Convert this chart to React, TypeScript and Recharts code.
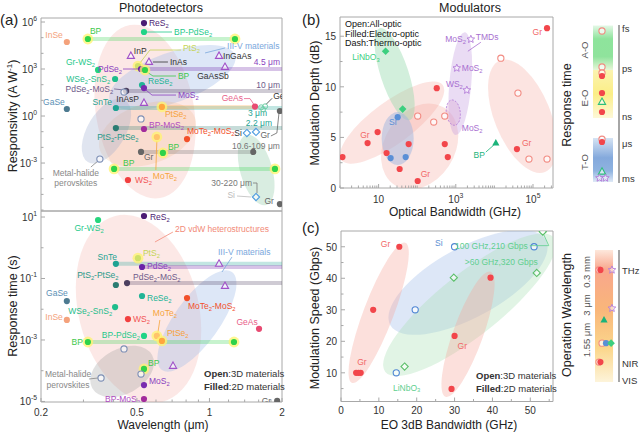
import React from "react";
import { ScatterChart, Scatter, XAxis, YAxis, ReferenceArea } from "recharts";

const FONT = '"Liberation Sans", Arial, Helvetica, sans-serif';
const AXIS = "#a8a8a8";
const INK = "#333";
const LBL = 8.5;

// ---------- (a) photodetectors: responsivity vs wavelength ----------
// [id, material, wavelength (um), responsivity (A/W)]
const respPoints: [string, string, number, number][] = [
  ["a1", "InSe", 0.256, 5.3e4],
  ["a2", "BP", 0.313, 8.2e4],
  ["a2e", "BP", 1.276, 8.2e4],
  ["a3", "ReS2", 0.535, 8.6e5],
  ["a4", "BP-PdSe2", 0.535, 2.3e5],
  ["a5", "PtS2", 0.505, 1.55e3],
  ["a6", "III-V", 0.472, 6.8e3],
  ["a7", "III-V", 0.561, 2.8e3],
  ["a8", "III-V", 1.096, 6.8e3],
  ["a9", "III-V", 1.16, 1.34e3],
  ["a10", "Gr-WS2", 0.345, 870],
  ["a11", "PdSe2", 0.52, 1000],
  ["a12", "BP", 0.54, 865],
  ["a13", "WSe2-SnS2", 0.406, 230],
  ["a14", "PdSe2-MoS2", 0.451, 40],
  ["a15", "bulk", 0.442, 34],
  ["a16", "ReSe2", 0.525, 95],
  ["a17", "MoS2", 0.535, 61],
  ["a18", "III-V", 0.535, 6.8],
  ["a19", "GaSe", 0.256, 2.8],
  ["a20", "SnTe", 0.409, 3.25],
  ["a21", "PtSe2", 0.635, 3.8],
  ["a22", "GeAs", 1.545, 4.0],
  ["a23", "Ge", 1.67, 3.6],
  ["a24", "bulk", 0.52, 0.65],
  ["a25", "PtS2-PtSe2", 0.409, 0.17],
  ["a26", "BP-MoS2", 0.535, 0.149],
  ["a27", "MoTe2-MoS2", 0.807, 0.034],
  ["a28", "MoTe2", 0.605, 0.046],
  ["a29", "Si", 1.43, 0.082],
  ["a30", "Si", 1.56, 0.096],
  ["a31", "Gr", 1.96, 2.1],
  ["a32", "Gr", 0.52, 5.1e-3],
  ["a32e", "Gr", 1.52, 5.1e-3],
  ["a33", "BP", 0.641, 4.4e-3],
  ["a34", "bulk", 0.351, 1.8e-3],
  ["a35", "BP", 0.402, 4.2e-4],
  ["a35e", "BP", 1.87, 4.2e-4],
  ["a36", "WS2", 0.459, 8.3e-5],
  ["a37", "Si", 1.56, 6.8e-6],
  ["a38", "Gr", 1.96, 2.4e-6],
];
// spectral ranges: [id, material, from, to, responsivity]
const respRanges: [string, string, number, number, number][] = [
  ["r1", "BP", 0.313, 1.276, 8.2e4],
  ["r2", "PdSe2", 0.52, 2, 1000],
  ["r3", "PdSe2-MoS2", 0.451, 2, 40],
  ["r4", "SnTe", 0.409, 2, 3.25],
  ["r5", "PtSe2", 0.635, 1.545, 3.8],
  ["r6", "PtS2-PtSe2", 0.409, 2, 0.17],
  ["r7", "Gr", 0.52, 1.52, 5.1e-3],
  ["r8", "BP", 0.402, 1.87, 4.2e-4],
];
// material groups (major-axis ends): [id, x1, y1, x2, y2]
const respHulls: [string, number, number, number, number][] = [
  ["vdw", 0.468, 6.4e5, 0.624, 5.9e-6],
  ["iii", 0.386, 10.5, 1.276, 7.8e3],
  ["tan", 0.351, 6.8e-3, 0.871, 0.75],
  ["pero", 0.313, 1.16e-3, 0.446, 10.5],
  ["far", 1.42, 0.062, 1.72, 2.1e-6],
];

// ---------- (a) photodetectors: response time vs wavelength ----------
const timePoints: [string, string, number, number][] = [
  ["b1", "Gr-WS2", 0.345, 8.0],
  ["b2", "ReS2", 0.535, 10.8],
  ["b3", "SnTe", 0.409, 0.3],
  ["b4", "PtS2", 0.505, 0.46],
  ["b5", "PdSe2", 0.525, 0.237],
  ["b6", "III-V", 1.096, 0.3],
  ["b7", "PtS2-PtSe2", 0.409, 0.0615],
  ["b8", "PdSe2-MoS2", 0.455, 0.071],
  ["b9", "III-V", 1.16, 0.057],
  ["b10", "GaSe", 0.256, 0.0185],
  ["b11", "ReSe2", 0.525, 0.027],
  ["b12", "MoTe2-MoS2", 0.807, 0.023],
  ["b13", "WSe2-SnS2", 0.406, 0.0118],
  ["b14", "WS2", 0.459, 4.8e-3],
  ["b15", "InSe", 0.256, 4.5e-3],
  ["b16", "GeAs", 1.606, 2.3e-3],
  ["b17", "MoTe2", 0.605, 1.35e-3],
  ["b18", "BP-PdSe2", 0.535, 1.35e-3],
  ["b19", "PtSe2", 0.635, 9.3e-4],
  ["b20", "BP", 0.313, 8.6e-4],
  ["b20e", "BP", 1.264, 8.6e-4],
  ["b21", "bulk", 0.442, 5.1e-4],
  ["b22", "BP", 0.535, 1.14e-4],
  ["b23", "III-V", 0.706, 1.43e-4],
  ["b24", "bulk", 0.52, 7.8e-5],
  ["b25", "bulk", 0.355, 5.8e-5],
  ["b26", "MoS2", 0.535, 3.4e-5],
  ["b27", "BP-MoS2", 0.535, 1.2e-5],
  ["b28", "Gr", 1.91, 1.04e-5],
];
const timeRanges: [string, string, number, number, number][] = [
  ["q1", "SnTe", 0.409, 2, 0.3],
  ["q2", "PdSe2", 0.525, 2, 0.237],
  ["q3", "PdSe2-MoS2", 0.455, 2, 0.071],
  ["q4", "BP", 0.313, 1.264, 8.6e-4],
];
const timeHulls: [string, number, number, number, number][] = [
  ["vdw", 0.406, 10.8, 0.635, 9.6e-6],
  ["iii", 0.635, 1.06e-4, 1.24, 0.163],
  ["pero", 0.326, 2.75e-5, 0.578, 3.25e-4],
];
const timeNotes: [string, number, number][] = [
  ["2D vdW heterostructures", 0.719, 4.07],
  ["III-V materials", 1.085, 0.728],
];

// ---------- (b) modulators: depth vs optical bandwidth ----------
const modPoints: [string, string, number, number][] = [
  ["m1", "GrEO", 1.16, 3.06],
  ["m2", "GrEO", 5.18, 4.44],
  ["m3", "GrEO", 9.42, 5.53],
  ["m4", "GrEO", 16.1, 3.46],
  ["m5", "GrEO", 35.1, 1.88],
  ["m6", "GrEO", 60.1, 4.34],
  ["m7", "GrEO", 103, 0.69],
  ["m8", "GrEO", 321, 9.87],
  ["m9", "GrEO", 518, 4.34],
  ["m10", "GrEO", 620, 3.06],
  ["m11", "GrEO", 3.84e4, 3.85],
  ["m12", "GrEO", 2.31e5, 15.8],
  ["m13", "GrAO", 103, 7.11],
  ["m14", "GrAO", 268, 6.52],
  ["m15", "GrAO", 518, 7.11],
  ["m16", "GrAO", 1.47e4, 12.83],
  ["m17", "GrAO", 4.08e4, 9.38],
  ["m18", "GrAO", 7.87e4, 2.86],
  ["m19", "GrAO", 2.31e5, 2.86],
  ["m20", "SiEO", 31.2, 7.0],
  ["m21", "SiEO", 20.5, 2.96],
  ["m22", "SiEO", 50.3, 3.06],
  ["m23", "LN", 15.2, 13.52],
  ["m24", "LN", 42, 7.8],
  ["m25", "TMD", 2455, 14.7],
  ["m26", "TMD", 1062, 11.85],
  ["m27", "TMD", 1931, 9.67],
  ["m28", "BPEO", 1.09e4, 4.44],
];
const modHulls: [string, number, number, number, number][] = [
  ["grA", 1.09, 2.76, 459, 10.17],
  ["grB", 26, 0.3, 518, 7.9],
  ["ln", 10.6, 15.8, 63.8, 6.71],
  ["si", 31.2, 7.5, 31.2, 2.27],
  ["tmd", 1713, 15.4, 1000, 5.23],
  ["hatch", 787, 8.7, 942, 6.2],
  ["ao", 1.39e4, 12.6, 2.05e5, 1.58],
];
const modNotes: [string, number, number][] = [["MoS_2", 1432, 5.92]];

// ---------- (c) modulators: speed vs EO bandwidth ----------
const speedPoints: [string, string, number, number][] = [
  ["s1", "GrEO", 15.4, 50],
  ["s2", "GrEO", 8.5, 30],
  ["s3", "GrEO", 4.0, 10],
  ["s4", "GrEO", 4.6, 10],
  ["s5", "GrEO", 5.2, 10],
  ["s6", "GrEO", 30, 21.7],
  ["s7", "GrEO", 29.2, 4.9],
  ["s8", "GrEO", 39.5, 40.2],
  ["s9", "SiC", 30, 50],
  ["s10", "SiC", 51, 50],
  ["s11", "SiC", 19.6, 30],
  ["s12", "SiC", 14.6, 10],
  ["s13", "LNC", 29.8, 40.2],
  ["s14", "LNC", 16.8, 12],
  ["s15", "LNC", 51.7, 41.7],
  ["s16", "LNC", 53.3, 54.8],
];
const speedHulls: [string, number, number, number, number][] = [
  ["si", 13, 25.2, 54.1, 52.2],
  ["ln", 11.7, 10.3, 56.2, 52.9],
  ["gr1", 2.9, 6.8, 17, 51.3],
  ["gr2", 27.6, 2.4, 39.5, 42.1],
];

// ---------- side keys ----------
const rtTicks = [0, 2.8, 5, 8.8, 12];
const rtNames = ["ms", "μs", "ns", "ps", "fs"];
const rtBands: [string, number, number][] = [
  ["AO", 8.64, 12.2],
  ["EO", 4.8, 8.64],
  ["TO", -0.32, 3.2],
];
const rtMarks: [string, number, number][] = [
  ["GrAO", 0.45, 11.76],
  ["GrAO", 0.45, 8.88],
  ["GrAO", 0.45, 8.4],
  ["GrEO", 0.45, 8.16],
  ["GrEO", 0.45, 6.8],
  ["BPo", 0.45, 6.08],
  ["GrEO", 0.45, 5.28],
  ["GrAO", 0.45, 3.1],
  ["GrEO", 0.45, 2.88],
  ["BPo", 0.45, 0.5],
  ["TMD", 0.32, 0.0],
  ["TMD", 0.62, 0.0],
];
const wlTicks = [0, 1, 6.3];
const wlNames = ["VIS", "NIR", "THz"];
const wlMarks: [string, number, number][] = [
  ["GrAO", 0.22, 6.29],
  ["GrEO", 0.3, 6.29],
  ["TMD", 0.94, 6.29],
  ["TMD", 0.94, 4.1],
  ["BPEO", 0.5, 3.43],
  ["GrAO", 0.39, 2.11],
  ["SiEO", 0.61, 2.11],
  ["LN", 0.89, 2.11],
  ["GrAO", 0.22, 1.03],
  ["GrEO", 0.3, 1.03],
];

// ---------- axes ----------
const wlAxis = [0.2, 0.3, 0.4, 0.5, 0.6, 0.7, 0.8, 0.9, 1, 1.2, 1.4, 1.6, 1.8, 2];
const wlMajor = [0.2, 0.5, 1, 2];
const respTicks = [1e-6, 1e-5, 1e-4, 1e-3, 1e-2, 0.1, 1, 10, 100, 1e3, 1e4, 1e5, 1e6];
const respMajor = [1e6, 1e3, 1, 1e-3];
const timeTicks = [1e-5, 1e-4, 1e-3, 1e-2, 0.1, 1, 10];
const timeMajor = [10, 0.1, 1e-3, 1e-5];
const bwMajor = [10, 1e3, 1e5];
const bwTicks: number[] = [];
for (let k = 0; k <= 5; k++) for (let m = 1; m <= 9; m++) if (m * 10 ** k <= 3.3e5) bwTicks.push(m * 10 ** k);
const depthTicks = [0, 2.5, 5, 7.5, 10, 12.5, 15];
const eoTicks = [0, 5, 10, 15, 20, 25, 30, 35, 40, 45, 50, 55];
const speedTicks = [5, 10, 15, 20, 25, 30, 35, 40, 45, 50];

// ---------- styles ----------
type Mat = { c: string; k?: string; lc?: string };
const MAT: Record<string, Mat> = {
  InSe: { c: "#f4a27c" },
  BP: { c: "#2fd24a", k: "halo", lc: "#3dc84a" },
  ReS2: { c: "#4b1c74" },
  "BP-PdSe2": { c: "#22d487", lc: "#1ec98a" },
  PtS2: { c: "#cfe06a", k: "halo", lc: "#c4d455" },
  "III-V": { c: "#a050c8", k: "tri", lc: INK },
  "Gr-WS2": { c: "#27d57d", lc: "#1ec98a" },
  PdSe2: { c: "#6a22a8", lc: "#8a3fc0" },
  "WSe2-SnS2": { c: "#1fbd8c" },
  "PdSe2-MoS2": { c: "#4d4060", lc: "#6e5a8a" },
  bulk: { c: "#7d8fb5", k: "ring", lc: "#888" },
  ReSe2: { c: "#22b496" },
  MoS2: { c: "#7a2cb0", lc: "#8a3fc0" },
  GaSe: { c: "#4d7a90", lc: "#5b8fb5" },
  SnTe: { c: "#1ea393" },
  PtSe2: { c: "#ffa63d", k: "halo", lc: "#f7a23a" },
  "PtS2-PtSe2": { c: "#2b7c72", lc: "#2a9a8a" },
  "BP-MoS2": { c: "#a22c9c", lc: "#b04ac0" },
  "MoTe2-MoS2": { c: "#f2502a" },
  MoTe2: { c: "#ffc46b", k: "halo", lc: "#f6a43c" },
  Si: { c: "#4d9be0", k: "dia", lc: INK },
  Gr: { c: "#666", lc: "#666" },
  WS2: { c: "#f23f3f", lc: "#f25555" },
  GeAs: { c: "#e84b72", lc: "#e8608a" },
  Ge: { c: "#6fd0a8", k: "ge", lc: INK },
  GrEO: { c: "#f2464b", lc: "#f26868" },
  GrAO: { c: "#f28b82", k: "ring", lc: "#f26868" },
  SiEO: { c: "#5a8fd6" },
  LN: { c: "#3ccf7f", k: "fdia", lc: "#3ccf7f" },
  TMD: { c: "#b27ad8", k: "star", lc: "#a86fd0" },
  BPEO: { c: "#1bb37a", k: "ftri" },
  BPo: { c: "#2cbf7a", k: "tri" },
  SiC: { c: "#4f86d4", k: "ring", lc: "#5b8fd3" },
  LNC: { c: "#5cbf6a", k: "dia", lc: "#5fcf8f" },
};

type Hull = { fill: string; op: number; w: number; dash?: string };
const PINK = "#f5a59b";
const respHullStyle: Record<string, Hull> = {
  vdw: { fill: PINK, op: 0.25, w: 98 },
  iii: { fill: "#9fbbe8", op: 0.35, w: 50 },
  tan: { fill: "#efae72", op: 0.2, w: 60 },
  pero: { fill: "#97a9cc", op: 0.3, w: 38 },
  far: { fill: "#9fd3b4", op: 0.4, w: 32 },
};
const timeHullStyle: Record<string, Hull> = {
  vdw: { fill: PINK, op: 0.25, w: 120 },
  iii: { fill: "#9fbbe8", op: 0.35, w: 45 },
  pero: { fill: "#9a9a9a", op: 0.3, w: 45 },
};
const modHullStyle: Record<string, Hull> = {
  grA: { fill: PINK, op: 0.3, w: 42 },
  grB: { fill: PINK, op: 0.3, w: 70 },
  ln: { fill: "#8fd6a8", op: 0.4, w: 28 },
  si: { fill: "#9fb5e0", op: 0.5, w: 32 },
  tmd: { fill: "#c49be0", op: 0.35, w: 22 },
  hatch: { fill: "#d9a6d0", op: 0.35, w: 14, dash: "2 1.5" },
  ao: { fill: PINK, op: 0.3, w: 56 },
};
const speedHullStyle: Record<string, Hull> = {
  si: { fill: "#a9c4ea", op: 0.4, w: 70 },
  ln: { fill: "#a8e0b4", op: 0.35, w: 62 },
  gr1: { fill: PINK, op: 0.35, w: 30 },
  gr2: { fill: PINK, op: 0.35, w: 30 },
};

type Lab = { t: string; dx: number; dy: number; a?: string; c?: string; l?: number[][] };
const respLabels: Record<string, Lab[]> = {
  a1: [{ t: "InSe", dx: -4, dy: -7, a: "end" }],
  a2: [{ t: "BP", dx: 2, dy: -8 }],
  a3: [{ t: "ReS_2", dx: 5, dy: 0 }],
  a4: [{ t: "BP-PdSe_2", dx: 30, dy: 0, l: [[3, 0], [28, 0]] }],
  a5: [{ t: "PtS_2", dx: 45, dy: -18, l: [[2, -3], [12, -16], [43, -16]] }],
  a6: [{ t: "InP", dx: 3, dy: -5 }],
  a7: [{ t: "InAs", dx: 21, dy: 0, l: [[4, 0], [19, 0]] }],
  a8: [
    { t: "InGaAs", dx: 4, dy: 0 },
    { t: "III-V materials", dx: 8, dy: -10, c: "#7aa7dc", l: [[6, -8], [-14, -3]] },
  ],
  a9: [{ t: "GaAsSb", dx: -12, dy: 9, a: "middle" }],
  a10: [{ t: "Gr-WS_2", dx: -3, dy: -8, a: "end" }],
  a11: [{ t: "PdSe_2", dx: -19, dy: 0, a: "end", l: [[-3, 0], [-18, 0]] }],
  a12: [{ t: "BP", dx: 33, dy: 6, l: [[2, 2], [8, 6], [31, 6]] }],
  a13: [{ t: "WSe_2-SnS_2", dx: -5, dy: 0, a: "end" }],
  a14: [{ t: "PdSe_2-MoS_2", dx: -13, dy: -2, a: "end", l: [[-12, -2], [-3, -1]] }],
  a16: [{ t: "ReSe_2", dx: 6, dy: -4 }],
  a17: [{ t: "MoS_2", dx: 34, dy: 7, l: [[2, 2], [8, 7], [32, 7]] }],
  a18: [{ t: "InAsP", dx: -5, dy: -4, a: "end" }],
  a19: [{ t: "GaSe", dx: -2, dy: -7, a: "end" }],
  a20: [{ t: "SnTe", dx: -4, dy: -6, a: "end" }],
  a21: [{ t: "PtSe_2", dx: 3, dy: 7 }],
  a22: [{ t: "GeAs", dx: -12, dy: -9, a: "end", l: [[-11, -8], [-5, -8], [-1, -2]] }],
  a23: [{ t: "Ge", dx: 10, dy: -11, l: [[3, -3], [9, -9]] }],
  a25: [{ t: "PtS_2-PtSe_2", dx: 2, dy: 9, a: "middle" }],
  a26: [{ t: "BP-MoS_2", dx: 5, dy: -4 }],
  a27: [{ t: "MoTe_2-MoS_2", dx: 0, dy: -8 }],
  a28: [{ t: "MoTe_2", dx: -4, dy: 39, l: [[0, 4], [-1, 33]] }],
  a29: [{ t: "Si", dx: -5, dy: 0, a: "end" }],
  a31: [
    { t: "Gr", dx: -10, dy: 24, a: "end", l: [[-1, 3], [-3, 22], [-9, 25]] },
    { t: "10.6-109 μm", dx: 0, dy: 35, a: "end", c: "#777" },
  ],
  a32: [{ t: "Gr", dx: 3, dy: 5 }],
  a33: [{ t: "BP", dx: 5, dy: -6 }],
  a34: [
    { t: "Metal-halide", dx: -24, dy: 14, a: "middle", c: "#888", l: [[-2, 2], [-9, 8]] },
    { t: "perovskites", dx: -24, dy: 24, a: "middle", c: "#888" },
  ],
  a35: [{ t: "BP", dx: 9, dy: -6 }],
  a36: [{ t: "WS_2", dx: 7, dy: 0 }],
  a37: [
    { t: "Si", dx: -21, dy: -2, a: "end", c: "#bbb", l: [[-19, -1], [-5, 0]] },
    { t: "30-220 μm", dx: -4, dy: -14, a: "end", c: "#777", l: [[-3, -14], [1, -14], [1, -4]] },
  ],
  a38: [{ t: "Gr", dx: -6, dy: -3, a: "end" }],
};
const respRangeNotes: Record<string, Lab> = {
  r2: { t: "4.5 μm", dx: -2, dy: -7, a: "end", c: "#8a3fc0" },
  r3: { t: "10 μm", dx: -2, dy: -6, a: "end", c: "#6e5a8a" },
  r4: { t: "3 μm", dx: -15, dy: 5, a: "end", c: "#1ea393" },
  r6: { t: "2.2 μm", dx: -10, dy: -5, a: "end", c: "#1ea393" },
};
const timeLabels: Record<string, Lab[]> = {
  b1: [{ t: "Gr-WS_2", dx: -9, dy: 8, a: "middle" }],
  b2: [{ t: "ReS_2", dx: 6, dy: 1 }],
  b3: [{ t: "SnTe", dx: 1, dy: -7, a: "end" }],
  b4: [{ t: "PtS_2", dx: 5, dy: -5 }],
  b5: [{ t: "PdSe_2", dx: 5, dy: -1 }],
  b7: [{ t: "PtS_2-PtSe_2", dx: -18, dy: -10, a: "middle" }],
  b8: [{ t: "PdSe_2-MoS_2", dx: 6, dy: -6 }],
  b10: [{ t: "GaSe", dx: 1, dy: -8, a: "end" }],
  b11: [{ t: "ReSe_2", dx: 5, dy: 2 }],
  b12: [{ t: "MoTe_2-MoS_2", dx: 1, dy: 8 }],
  b13: [{ t: "WSe_2-SnS_2", dx: -3, dy: 4, a: "end" }],
  b14: [{ t: "WS_2", dx: 5, dy: 0 }],
  b15: [{ t: "InSe", dx: -4, dy: -3, a: "end" }],
  b16: [{ t: "GeAs", dx: -12, dy: -7, a: "middle" }],
  b17: [{ t: "MoTe_2", dx: -4, dy: -23, l: [[3, -16], [1, -3]] }],
  b18: [{ t: "BP-PdSe_2", dx: -4, dy: -1, a: "end" }],
  b19: [{ t: "PtSe_2", dx: 5, dy: -8 }],
  b20: [{ t: "BP", dx: -5, dy: 0, a: "end" }],
  b22: [{ t: "BP", dx: 4, dy: -6 }],
  b25: [
    { t: "Metal-halide", dx: -33, dy: -4, a: "middle", c: "#888", l: [[-3, 0], [-12, 1]] },
    { t: "perovskites", dx: -33, dy: 7, a: "middle", c: "#888" },
  ],
  b26: [{ t: "MoS_2", dx: 5, dy: -4 }],
  b27: [{ t: "BP-MoS_2", dx: -4, dy: 0, a: "end" }],
  b28: [{ t: "Gr", dx: -6, dy: 0, a: "end" }],
};
const timeNoteStyle: Record<string, { c: string; l?: number[][] }> = {
  "2D vdW heterostructures": { c: "#f28a78", l: [[-2, 3], [-20, 13]] },
  "III-V materials": { c: "#7aa7dc", l: [[14, 5], [4, 20]] },
};
const modLabels: Record<string, Lab[]> = {
  m3: [{ t: "Gr", dx: -8, dy: 3, a: "end" }],
  m7: [{ t: "Gr", dx: 3, dy: -7 }],
  m11: [{ t: "Gr", dx: 5, dy: -6 }],
  m12: [{ t: "Gr", dx: -5, dy: 4, a: "end" }],
  m20: [{ t: "Si", dx: -1, dy: 5, a: "end" }],
  m23: [{ t: "LiNbO_3", dx: -6, dy: 6, a: "end" }],
  m25: [
    { t: "MoS_2", dx: -5, dy: 0, a: "end" },
    { t: "TMDs", dx: 5, dy: -2, l: [[10, 3], [-3, 12]] },
  ],
  m26: [{ t: "MoS_2", dx: 5, dy: 0 }],
  m27: [{ t: "WS_2", dx: -4, dy: -6, a: "end" }],
  m28: [{ t: "BP", dx: -11, dy: 12, a: "end", l: [[-2, 2], [-10, 9]] }],
};
const modNoteStyle: Record<string, { c: string; l?: number[][] }> = {
  MoS_2: { c: "#a86fd0" },
};
const speedLabels: Record<string, Lab[]> = {
  s1: [{ t: "Gr", dx: -9, dy: -3, a: "end" }],
  s3: [{ t: "Gr", dx: 1, dy: -11 }],
  s6: [{ t: "Gr", dx: 3, dy: 10 }],
  s9: [{ t: "Si", dx: -12, dy: -4, a: "end" }],
  s14: [{ t: "LiNbO_3", dx: 2, dy: 21, a: "middle" }],
  s15: [{ t: ">60 GHz,320 Gbps", dx: 1, dy: -11, a: "end" }],
  s16: [{ t: "100 GHz,210 Gbps", dx: -15, dy: 14, a: "end", l: [[-13, 14], [6, 14], [1, 3]] }],
};

// ---------- drawing helpers ----------
function Rich({ x, y, text, fill = INK, anchor = "start", size = LBL }: any) {
  const out: React.ReactNode[] = [];
  let buf = "";
  let pend = 0;
  let k = 0;
  const flush = () => {
    if (buf) {
      out.push(<tspan key={k++} dy={pend || undefined}>{buf}</tspan>);
      pend = 0;
      buf = "";
    }
  };
  for (let i = 0; i < text.length; i++) {
    const ch = text[i];
    if (ch === "_" || ch === "^") {
      flush();
      let s = text[i + 1];
      let j = i + 1;
      if (s === "{") {
        const e = text.indexOf("}", i);
        s = text.slice(i + 2, e);
        j = e;
      }
      const off = ch === "_" ? size * 0.32 : -size * 0.42;
      out.push(<tspan key={k++} dy={pend + off} fontSize={size * 0.68}>{s}</tspan>);
      pend = -off;
      i = j;
    } else buf += ch;
  }
  flush();
  return (
    <text x={x} y={y} fill={fill} textAnchor={anchor} fontSize={size} fontFamily={FONT} dominantBaseline="central">
      {out}
    </text>
  );
}

const starPath = (cx: number, cy: number, R = 4, r = 1.8) => {
  let d = "";
  for (let i = 0; i < 10; i++) {
    const rad = i % 2 === 0 ? R : r;
    const a = -Math.PI / 2 + (i * Math.PI) / 5;
    d += (i ? "L" : "M") + (cx + rad * Math.cos(a)).toFixed(2) + "," + (cy + rad * Math.sin(a)).toFixed(2);
  }
  return d + "Z";
};

function Marker({ cx, cy, m }: any) {
  const c = m.c;
  const r = 3.1;
  const tri = (R: number) => `${cx},${cy - R} ${cx + R * 0.9},${cy + R * 0.6} ${cx - R * 0.9},${cy + R * 0.6}`;
  const dia = (R: number) => `${cx},${cy - R} ${cx + R},${cy} ${cx},${cy + R} ${cx - R},${cy}`;
  switch (m.k) {
    case "halo":
      return (
        <g>
          <circle cx={cx} cy={cy} r={r + 2.3} fill="#fff46e" fillOpacity={0.75} />
          <circle cx={cx} cy={cy} r={r} fill={c} />
        </g>
      );
    case "ring":
      return <circle cx={cx} cy={cy} r={r} fill="#fff" fillOpacity={0.7} stroke={c} strokeWidth={1.1} />;
    case "tri":
      return <polygon points={tri(4)} fill="#fff" fillOpacity={0.6} stroke={c} strokeWidth={1.1} />;
    case "ftri":
      return <polygon points={tri(4)} fill={c} />;
    case "dia":
      return <polygon points={dia(3.6)} fill="#fff" fillOpacity={0.6} stroke={c} strokeWidth={1.1} />;
    case "fdia":
      return <polygon points={dia(3.8)} fill={c} />;
    case "star":
      return <path d={starPath(cx, cy)} fill="#fff" fillOpacity={0.5} stroke={c} strokeWidth={0.9} />;
    case "ge":
      return (
        <g fill="none" stroke={c} strokeWidth={1}>
          <circle cx={cx - 2} cy={cy} r={2.5} />
          <circle cx={cx + 2} cy={cy - 1} r={2.5} />
          <circle cx={cx} cy={cy + 2} r={2.5} />
        </g>
      );
    default:
      return <circle cx={cx} cy={cy} r={r} fill={c} />;
  }
}

const none = () => <g />;

const pointShape = (labels: Record<string, Lab[]>) => (p: any) => {
  const { cx, cy, payload } = p;
  if (cx == null || cy == null) return <g />;
  const m = MAT[payload.m];
  const labs = labels[payload.id] || [];
  const lc = m.lc || m.c;
  return (
    <g>
      {labs.map((L, i) =>
        L.l ? (
          <polyline
            key={"l" + i}
            points={L.l.map(([a, b]) => `${cx + a},${cy + b}`).join(" ")}
            fill="none"
            stroke={L.c || lc}
            strokeWidth={0.8}
          />
        ) : null
      )}
      <Marker cx={cx} cy={cy} m={m} />
      {labs.map((L, i) => (
        <Rich key={"t" + i} x={cx + L.dx} y={cy + L.dy} text={L.t} fill={L.c || lc} anchor={L.a || "start"} />
      ))}
    </g>
  );
};

const noteShape = (styles: Record<string, { c: string; l?: number[][] }>) => (p: any) => {
  const { cx, cy, payload } = p;
  const s = styles[payload.t];
  return (
    <g>
      {s.l && (
        <polyline points={s.l.map(([a, b]) => `${cx + a},${cy + b}`).join(" ")} fill="none" stroke={s.c} strokeWidth={0.8} />
      )}
      <Rich x={cx} y={cy} text={payload.t} fill={s.c} />
    </g>
  );
};

const hullLine = (s: Hull) => (p: any) => {
  const pts = p.points || [];
  if (pts.length < 2) return <g />;
  const [a, b] = pts;
  const cx = (a.x + b.x) / 2;
  const cy = (a.y + b.y) / 2;
  const rx = Math.hypot(b.x - a.x, b.y - a.y) / 2;
  const ang = (Math.atan2(b.y - a.y, b.x - a.x) * 180) / Math.PI;
  return (
    <ellipse
      cx={cx}
      cy={cy}
      rx={rx}
      ry={s.w / 2}
      transform={`rotate(${ang} ${cx} ${cy})`}
      fill={s.fill}
      fillOpacity={s.op}
      stroke={s.dash ? "#b27ad8" : "none"}
      strokeDasharray={s.dash}
      strokeWidth={0.8}
    />
  );
};

const bandLine = (color: string, note?: Lab) => (p: any) => {
  const pts = p.points || [];
  if (pts.length < 2) return <g />;
  const [a, b] = pts;
  return (
    <g>
      <line x1={a.x} y1={a.y} x2={b.x} y2={b.y} stroke={color} strokeOpacity={0.27} strokeWidth={4} strokeLinecap="round" />
      {note && <Rich x={b.x + note.dx} y={b.y + note.dy} text={note.t} fill={note.c || color} anchor={note.a || "start"} />}
    </g>
  );
};

const hullSeries = (rows: [string, number, number, number, number][], styles: Record<string, Hull>) =>
  rows.map(([id, x1, y1, x2, y2]) => (
    <Scatter
      key={"h" + id}
      data={[{ x: x1, y: y1 }, { x: x2, y: y2 }]}
      line={hullLine(styles[id])}
      shape={none}
      isAnimationActive={false}
    />
  ));

const bandSeries = (rows: [string, string, number, number, number][], notes: Record<string, Lab>) =>
  rows.map(([id, m, x1, x2, y]) => (
    <Scatter
      key={"r" + id}
      data={[{ x: x1, y }, { x: x2, y }]}
      line={bandLine(MAT[m].c, notes[id])}
      shape={none}
      isAnimationActive={false}
    />
  ));

const toObjs = (rows: [string, string, number, number][]) => rows.map(([id, m, x, y]) => ({ id, m, x, y }));
const markObjs = (rows: [string, number, number][]) => rows.map(([m, x, y], i) => ({ id: "k" + i, m, x, y }));
const noteObjs = (rows: [string, number, number][]) => rows.map(([t, x, y]) => ({ t, x, y }));

const tickFactory = (side: string, fmt: (v: number) => string | null, size = 10, off = 10) => (p: any) => {
  const { x, y, payload } = p;
  const lab = fmt(payload.value);
  const L = lab ? 4 : 2.5;
  if (side === "bottom")
    return (
      <g>
        <line x1={x} y1={y} x2={x} y2={y - L} stroke={AXIS} />
        {lab && <Rich x={x} y={y + off} text={lab} anchor="middle" size={size} fill={INK} />}
      </g>
    );
  if (side === "left")
    return (
      <g>
        <line x1={x} y1={y} x2={x + L} y2={y} stroke={AXIS} />
        {lab && <Rich x={x - 4} y={y} text={lab} anchor="end" size={size} fill={INK} />}
      </g>
    );
  return lab ? <Rich x={x + 3} y={y} text={lab} anchor="start" size={size} fill={INK} /> : <g />;
};
const pow10 = (v: number) => `10^{${Math.round(Math.log10(v))}}`;
const wlFmt = (v: number) => (wlMajor.includes(v) ? String(v) : null);
const respFmt = (v: number) => (respMajor.includes(v) ? pow10(v) : null);
const timeFmt = (v: number) => (timeMajor.includes(v) ? pow10(v) : null);
const bwFmt = (v: number) => (v === 10 ? "10" : bwMajor.includes(v) ? pow10(v) : null);
const depthFmt = (v: number) => (v % 5 === 0 ? String(v) : null);
const eoFmt = (v: number) => (v % 10 === 0 ? String(v) : null);
const speedFmt = (v: number) => (v % 10 === 0 && v > 0 ? String(v) : null);
const rtFmt = (v: number) => (rtTicks.includes(v) ? rtNames[rtTicks.indexOf(v)] : null);
const wlKeyFmt = (v: number) => (wlTicks.includes(v) ? wlNames[wlTicks.indexOf(v)] : null);

const axisBase = { tickLine: false, axisLine: false, tickSize: 0, tickMargin: 0, interval: 0 as const, allowDataOverflow: true };

function T({ x, y, size = 12.5, color = "#222", rot = false, anchor = "middle", children }: any) {
  const tx = anchor === "middle" ? "-50%" : anchor === "end" ? "-100%" : "0";
  return (
    <div
      style={{
        position: "absolute",
        left: x,
        top: y,
        fontSize: size,
        color,
        whiteSpace: "nowrap",
        lineHeight: 1,
        transform: `translate(${tx}, -50%)${rot ? " rotate(-90deg)" : ""}`,
      }}
    >
      {children}
    </div>
  );
}

const WL_DOM = [0.2, 2];
const RESP_DOM = [8.7e-7, 1.8e6];
const TIME_DOM = [9.6e-6, 15.7];
const BW_DOM = [1, 3.3e5];
const DEPTH_DOM = [0, 16.9];
const EO_DOM = [0, 56];
const SPEED_DOM = [0.9, 55];

export default function App() {
  return (
    <div
      style={{ position: "absolute", left: 0, top: 0, width: 640, height: 432, background: "#fff", fontFamily: FONT, overflow: "hidden" }}
    >
      {/* (a) responsivity */}
      <div style={{ position: "absolute", left: 0, top: 0 }}>
        <ScatterChart width={290} height={215} margin={{ top: 18, right: 8, bottom: 4, left: 0 }}>
          <XAxis dataKey="x" type="number" scale="log" domain={WL_DOM} ticks={wlAxis} height={0} tick={tickFactory("bottom", () => null)} {...axisBase} />
          <YAxis dataKey="y" type="number" scale="log" domain={RESP_DOM} ticks={respTicks} width={41} tick={tickFactory("left", respFmt)} {...axisBase} />
          {hullSeries(respHulls, respHullStyle)}
          {bandSeries(respRanges, respRangeNotes)}
          <Scatter data={toObjs(respPoints)} shape={pointShape(respLabels)} isAnimationActive={false} />
          <ReferenceArea x1={WL_DOM[0]} x2={WL_DOM[1]} y1={RESP_DOM[0]} y2={RESP_DOM[1]} fill="none" stroke={AXIS} />
        </ScatterChart>
      </div>

      {/* (a) response time */}
      <div style={{ position: "absolute", left: 0, top: 204 }}>
        <ScatterChart width={290} height={228} margin={{ top: 7, right: 8, bottom: 10, left: 0 }}>
          <XAxis dataKey="x" type="number" scale="log" domain={WL_DOM} ticks={wlAxis} height={20} tick={tickFactory("bottom", wlFmt, 10, 10)} {...axisBase} />
          <YAxis dataKey="y" type="number" scale="log" domain={TIME_DOM} ticks={timeTicks} width={41} tick={tickFactory("left", timeFmt)} {...axisBase} />
          {hullSeries(timeHulls, timeHullStyle)}
          {bandSeries(timeRanges, {})}
          <Scatter data={toObjs(timePoints)} shape={pointShape(timeLabels)} isAnimationActive={false} />
          <Scatter data={noteObjs(timeNotes)} shape={noteShape(timeNoteStyle)} isAnimationActive={false} />
          <ReferenceArea x1={WL_DOM[0]} x2={WL_DOM[1]} y1={TIME_DOM[0]} y2={TIME_DOM[1]} fill="none" stroke={AXIS} />
        </ScatterChart>
      </div>

      {/* (b) modulation depth */}
      <div style={{ position: "absolute", left: 300, top: 0 }}>
        <ScatterChart width={260} height={215} margin={{ top: 17, right: 7, bottom: 7, left: 0 }}>
          <XAxis dataKey="x" type="number" scale="log" domain={BW_DOM} ticks={bwTicks} height={20} tick={tickFactory("bottom", bwFmt, 10, 11)} {...axisBase} />
          <YAxis dataKey="y" type="number" domain={DEPTH_DOM} ticks={depthTicks} width={40} tick={tickFactory("left", depthFmt)} {...axisBase} />
          {hullSeries(modHulls, modHullStyle)}
          <Scatter data={toObjs(modPoints)} shape={pointShape(modLabels)} isAnimationActive={false} />
          <Scatter data={noteObjs(modNotes)} shape={noteShape(modNoteStyle)} isAnimationActive={false} />
          <ReferenceArea x1={BW_DOM[0]} x2={BW_DOM[1]} y1={DEPTH_DOM[0]} y2={DEPTH_DOM[1]} fill="none" stroke={AXIS} />
        </ScatterChart>
      </div>

      {/* (c) modulation speed */}
      <div style={{ position: "absolute", left: 300, top: 215 }}>
        <ScatterChart width={260} height={217} margin={{ top: 16, right: 7, bottom: 10.5, left: 0 }}>
          <XAxis dataKey="x" type="number" domain={EO_DOM} ticks={eoTicks} height={20} tick={tickFactory("bottom", eoFmt, 10, 8.5)} {...axisBase} />
          <YAxis dataKey="y" type="number" domain={SPEED_DOM} ticks={speedTicks} width={41} tick={tickFactory("left", speedFmt)} {...axisBase} />
          {hullSeries(speedHulls, speedHullStyle)}
          <Scatter data={toObjs(speedPoints)} shape={pointShape(speedLabels)} isAnimationActive={false} />
          <ReferenceArea x1={EO_DOM[0]} x2={EO_DOM[1]} y1={SPEED_DOM[0]} y2={SPEED_DOM[1]} fill="none" stroke={AXIS} />
        </ScatterChart>
      </div>

      {/* response time key */}
      <div style={{ position: "absolute", left: 575, top: 15 }}>
        <ScatterChart width={65} height={173} margin={{ top: 10, right: 0, bottom: 5, left: 18 }}>
          <defs>
            <linearGradient id="cb-AO" x1="0" y1="0" x2="0" y2="1">
              <stop offset="0%" stopColor="#e4f8e6" />
              <stop offset="30%" stopColor="#8ee49c" />
              <stop offset="70%" stopColor="#8fe39c" />
              <stop offset="100%" stopColor="#e8f7d8" />
            </linearGradient>
            <linearGradient id="cb-EO" x1="0" y1="0" x2="0" y2="1">
              <stop offset="0%" stopColor="#fbf3b0" />
              <stop offset="50%" stopColor="#fbee86" />
              <stop offset="100%" stopColor="#fdf8d8" />
            </linearGradient>
            <linearGradient id="cb-TO" x1="0" y1="0" x2="0" y2="1">
              <stop offset="0%" stopColor="#d6e4f4" />
              <stop offset="45%" stopColor="#84a9dc" />
              <stop offset="75%" stopColor="#8fb3e0" />
              <stop offset="100%" stopColor="#dfe9f6" />
            </linearGradient>
          </defs>
          <XAxis dataKey="x" type="number" domain={[0, 1.3]} hide allowDataOverflow />
          <YAxis
            dataKey="y"
            type="number"
            orientation="right"
            domain={[-0.4, 12.24]}
            ticks={rtTicks}
            width={21}
            {...axisBase}
            axisLine={{ stroke: "#888", strokeWidth: 1.5 }}
            tick={tickFactory("right", rtFmt, 9.5)}
          />
          {rtBands.map(([name, y1, y2]) => (
            <ReferenceArea key={name} x1={0} x2={1} y1={y1} y2={y2} fill={`url(#cb-${name})`} fillOpacity={1} stroke="none" />
          ))}
          <Scatter data={markObjs(rtMarks)} shape={pointShape({})} isAnimationActive={false} />
        </ScatterChart>
      </div>

      {/* operation wavelength key */}
      <div style={{ position: "absolute", left: 577, top: 240 }}>
        <ScatterChart width={63} height={147} margin={{ top: 10, right: 0, bottom: 5, left: 18 }}>
          <defs>
            <linearGradient id="cb-WL" x1="0" y1="0" x2="0" y2="1">
              <stop offset="0%" stopColor="#fde8dc" />
              <stop offset="15%" stopColor="#f9a68c" />
              <stop offset="45%" stopColor="#f9b67a" />
              <stop offset="75%" stopColor="#fbd78c" />
              <stop offset="100%" stopColor="#fdf4da" />
            </linearGradient>
          </defs>
          <XAxis dataKey="x" type="number" domain={[0, 1.33]} hide allowDataOverflow />
          <YAxis
            dataKey="y"
            type="number"
            orientation="right"
            domain={[-0.11, 7.43]}
            ticks={wlTicks}
            width={21}
            {...axisBase}
            axisLine={{ stroke: "#888", strokeWidth: 1.5 }}
            tick={tickFactory("right", wlKeyFmt, 9.5)}
          />
          <ReferenceArea x1={0} x2={1} y1={-0.11} y2={7.43} fill="url(#cb-WL)" fillOpacity={1} stroke="none" />
          <Scatter data={markObjs(wlMarks)} shape={pointShape({})} isAnimationActive={false} />
        </ScatterChart>
      </div>

      {/* titles and texts */}
      <T x={161} y={8}>Photodetectors</T>
      <T x={470} y={8}>Modulators</T>
      <T x={0} y={19} size={15} anchor="start">(a)</T>
      <T x={302} y={19} size={15} anchor="start">(b)</T>
      <T x={302} y={227} size={15} anchor="start">(c)</T>
      <T x={13} y={116} rot>
        Responsivity (A W<sup style={{ fontSize: 8 }}>-1</sup>)
      </T>
      <T x={13} y={306} rot>Response time (s)</T>
      <T x={315} y={103} rot>Modulation Depth (dB)</T>
      <T x={315} y={318} rot>Modulation Speed (Gbps)</T>
      <T x={163} y={425} size={12}>Wavelength (μm)</T>
      <T x={455} y={212} size={12}>Optical Bandwidth (GHz)</T>
      <T x={449} y={425} size={12}>EO 3dB Bandwidth (GHz)</T>
      <T x={204} y={374} size={9.5} anchor="start" color={INK}>
        <b>Open</b>:3D materials
      </T>
      <T x={204} y={387} size={9.5} anchor="start" color={INK}>
        <b>Filled</b>:2D materials
      </T>
      <T x={345} y={24} size={9} anchor="start" color="#111">Open:All-optic</T>
      <T x={345} y={33.5} size={9} anchor="start" color="#111">Filled:Electro-optic</T>
      <T x={345} y={43} size={9} anchor="start" color="#111">Dash:Thermo-optic</T>
      <T x={476} y={376} size={9.5} anchor="start" color={INK}>
        <b>Open</b>:3D materials
      </T>
      <T x={476} y={389} size={9.5} anchor="start" color={INK}>
        <b>Filled</b>:2D materials
      </T>
      <T x={567} y={105} rot>Response time</T>
      <T x={585} y={50} rot size={9.5} color="#555">A-O</T>
      <T x={585} y={98} rot size={9.5} color="#555">E-O</T>
      <T x={585} y={162} rot size={9.5} color="#555">T-O</T>
      <T x={567} y={315} rot>Operation Wavelength</T>
      <T x={587} y={272} rot size={9.5} color="#555">0.3 mm</T>
      <T x={587} y={305} rot size={9.5} color="#555">3 μm</T>
      <T x={587} y={340} rot size={9.5} color="#555">1.55 μm</T>
    </div>
  );
}
